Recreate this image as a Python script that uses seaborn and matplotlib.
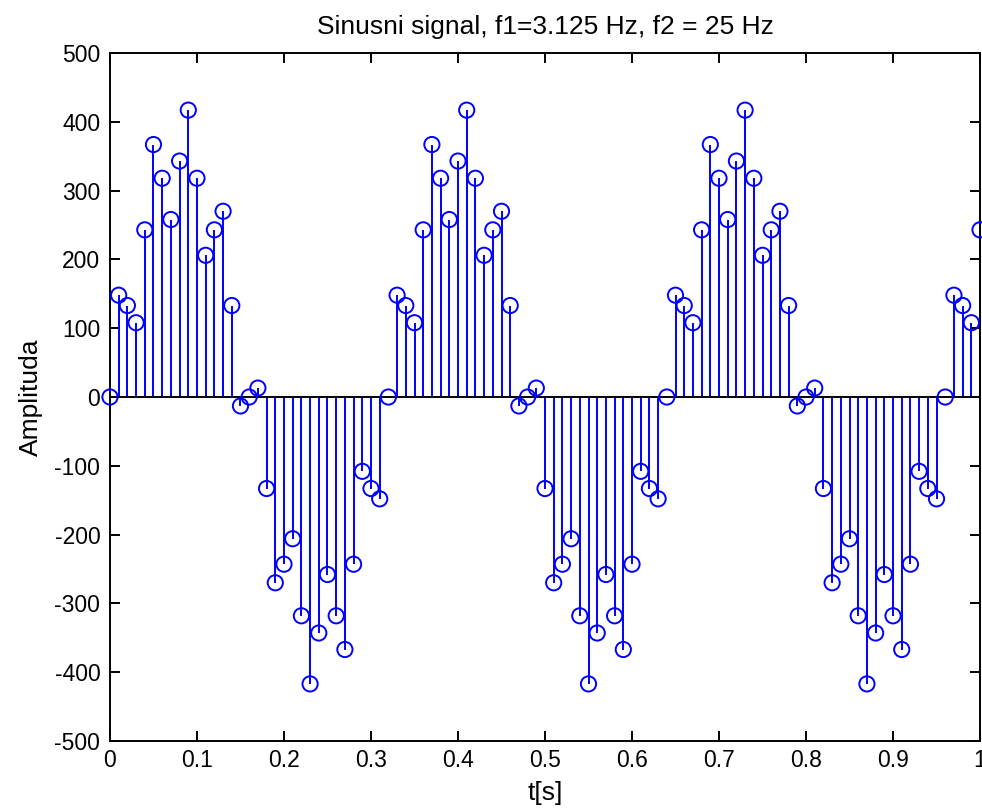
import numpy as np
import pandas as pd
import matplotlib
matplotlib.use("Agg")
import matplotlib.pyplot as plt
import seaborn as sns

# sample times (s) and amplitudes
t = [round(0.01 * i, 2) for i in range(101)]
amplitude = [
    0, 148, 133, 108, 243, 367, 318, 258, 343, 417,
    318, 206, 243, 270, 133, -13, 0, 13, -133, -270,
    -243, -206, -318, -417, -343, -258, -318, -367, -243, -108,
    -133, -148, 0, 148, 133, 108, 243, 367, 318, 258,
    343, 417, 318, 206, 243, 270, 133, -13, 0, 13,
    -133, -270, -243, -206, -318, -417, -343, -258, -318, -367,
    -243, -108, -133, -148, 0, 148, 133, 108, 243, 367,
    318, 258, 343, 417, 318, 206, 243, 270, 133, -13,
    0, 13, -133, -270, -243, -206, -318, -417, -343, -258,
    -318, -367, -243, -108, -133, -148, 0, 148, 133, 108,
    243,
]
xticks = [0, 0.1, 0.2, 0.3, 0.4, 0.5, 0.6, 0.7, 0.8, 0.9, 1.0]
xticklabels = ["0", "0.1", "0.2", "0.3", "0.4", "0.5", "0.6", "0.7", "0.8", "0.9", "1"]
yticks = [-500, -400, -300, -200, -100, 0, 100, 200, 300, 400, 500]

title = "Sinusni signal, f1=3.125 Hz, f2 = 25 Hz"
xlabel = "t[s]"
ylabel = "Amplituda"

df = pd.DataFrame({"t": t, "a": amplitude})

sns.set_style("ticks")
plt.rcParams["font.family"] = ["Liberation Sans", "DejaVu Sans"]
plt.rcParams["axes.unicode_minus"] = False
plt.rcParams["text.color"] = "black"
plt.rcParams["axes.labelcolor"] = "black"

fig = plt.figure(figsize=(9.82, 8.11), dpi=100)
ax = fig.add_axes([0.112, 0.0863, 0.886, 0.8483])

blue = "#0000ff"
lw = 1.4
ax.vlines(df["t"], 0, df["a"], color=blue, linewidth=lw, zorder=2)
ax.axhline(0, color="black", linewidth=lw, zorder=3)
sns.scatterplot(data=df, x="t", y="a", ax=ax, marker="o", s=120,
                facecolor="none", edgecolor=blue, linewidth=lw, zorder=4,
                clip_on=False)

ax.set_xlim(0, 1)
ax.set_ylim(-500, 500)
ax.set_xticks(xticks)
ax.set_xticklabels(xticklabels)
ax.set_yticks(yticks)
ax.tick_params(direction="in", top=True, right=True, length=7, width=lw,
               labelsize=16.5, colors="black")
ax.tick_params(axis="x", pad=6)
ax.tick_params(axis="y", pad=7)
for s in ax.spines.values():
    s.set_linewidth(lw)
    s.set_color("black")
    s.set_visible(True)

ax.set_title(title, fontsize=19, pad=14, color="black")
ax.set_xlabel(xlabel, fontsize=19, labelpad=6, color="black")
ax.set_ylabel(ylabel, fontsize=19, labelpad=8, color="black")

fig.savefig("out.png", dpi=100)
